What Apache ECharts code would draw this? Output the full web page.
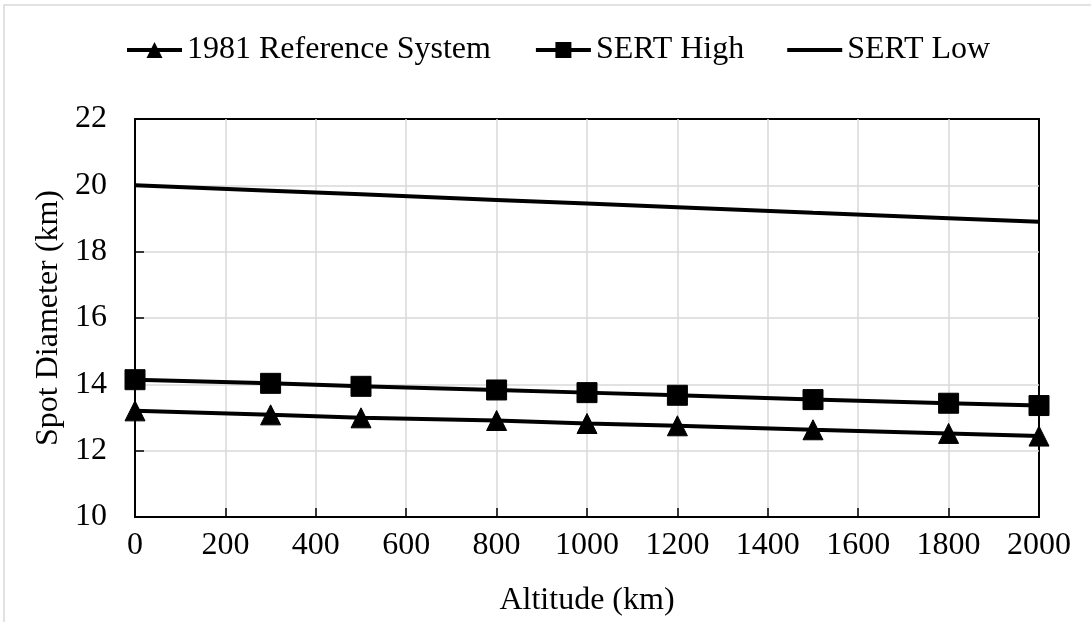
<!DOCTYPE html>
<html>
<head>
<meta charset="utf-8">
<script src="https://cdn.jsdelivr.net/npm/echarts@6/dist/echarts.min.js"></script>
<style>
html,body{margin:0;padding:0;background:#fff;}
#chart{width:1091px;height:622px;}
</style>
</head>
<body>
<div id="chart"></div>
<script>
const altitudes = [0, 300, 500, 800, 1000, 1200, 1500, 1800, 2000];
const refSystem = [13.20, 13.08, 12.99, 12.91, 12.82, 12.75, 12.63, 12.52, 12.44];
const sertHigh = [14.14, 14.03, 13.94, 13.83, 13.75, 13.67, 13.54, 13.43, 13.36];
const sertLow = [20.00, 19.84, 19.73, 19.56, 19.45, 19.34, 19.17, 19.01, 18.90];
const seriesNames = ['1981 Reference System', 'SERT High', 'SERT Low'];
const xTitle = 'Altitude (km)';
const yTitle = 'Spot Diameter (km)';

const font = '"Liberation Serif", "Times New Roman", serif';
const pairs = arr => altitudes.map((x, i) => [x, arr[i]]);

const chart = echarts.init(document.getElementById('chart'), null, {renderer: 'canvas'});
chart.setOption({
  animation: false,
  backgroundColor: '#fff',
  graphic: [{
    type: 'rect',
    shape: {x: 4, y: 5, width: 1200, height: 700},
    style: {fill: 'none', stroke: '#d9d9d9', lineWidth: 1.5},
    silent: true,
    z: -10
  }],
  legend: {
    top: 29,
    left: 120,
    itemWidth: 55,
    itemHeight: 20,
    itemGap: 43,
    lineStyle: {width: 4, color: '#000'},
    textStyle: {fontFamily: font, fontSize: 32, color: '#000'},
    data: [
      {name: seriesNames[0]},
      {name: seriesNames[1]},
      {name: seriesNames[2], icon: 'path://M0,0L55,0L55,4L0,4Z', itemStyle: {color: '#000'}}
    ]
  },
  grid: {
    left: 135, right: 52, top: 119, bottom: 103,
    show: true, borderColor: '#000', borderWidth: 2, backgroundColor: 'transparent'
  },
  xAxis: {
    type: 'value', min: 0, max: 2000, interval: 200,
    name: xTitle, nameLocation: 'middle', nameGap: 68,
    nameTextStyle: {fontFamily: font, fontSize: 32, color: '#000'},
    axisLine: {show: true, lineStyle: {color: '#000', width: 2}},
    axisTick: {show: true, inside: true, length: 9, lineStyle: {color: '#000', width: 1.5}},
    axisLabel: {fontFamily: font, fontSize: 32, color: '#000', margin: 13, formatter: v => String(v)},
    splitLine: {show: true, showMinLine: false, showMaxLine: false, lineStyle: {color: '#d9d9d9', width: 1.5}}
  },
  yAxis: {
    type: 'value', min: 10, max: 22, interval: 2,
    name: yTitle, nameLocation: 'middle', nameGap: 62,
    nameTextStyle: {fontFamily: font, fontSize: 32, color: '#000'},
    axisLine: {show: true, lineStyle: {color: '#000', width: 2}},
    axisTick: {show: true, inside: true, length: 9, lineStyle: {color: '#000', width: 1.5}},
    axisLabel: {fontFamily: font, fontSize: 32, color: '#000', margin: 28},
    splitLine: {show: true, showMinLine: false, showMaxLine: false, lineStyle: {color: '#d9d9d9', width: 1.5}}
  },
  series: [
    {
      name: seriesNames[0], type: 'line', data: pairs(refSystem),
      symbol: 'triangle', symbolSize: 20, showAllSymbol: true,
      lineStyle: {color: '#000', width: 4}, itemStyle: {color: '#000', borderColor: '#000'},
      z: 3
    },
    {
      name: seriesNames[1], type: 'line', data: pairs(sertHigh),
      symbol: 'rect', symbolSize: 20, showAllSymbol: true,
      lineStyle: {color: '#000', width: 4}, itemStyle: {color: '#000', borderColor: '#000'},
      z: 3
    },
    {
      name: seriesNames[2], type: 'line', data: pairs(sertLow),
      symbol: 'none',
      lineStyle: {color: '#000', width: 4}, itemStyle: {color: '#000'},
      z: 3
    }
  ]
});
</script>
</body>
</html>
